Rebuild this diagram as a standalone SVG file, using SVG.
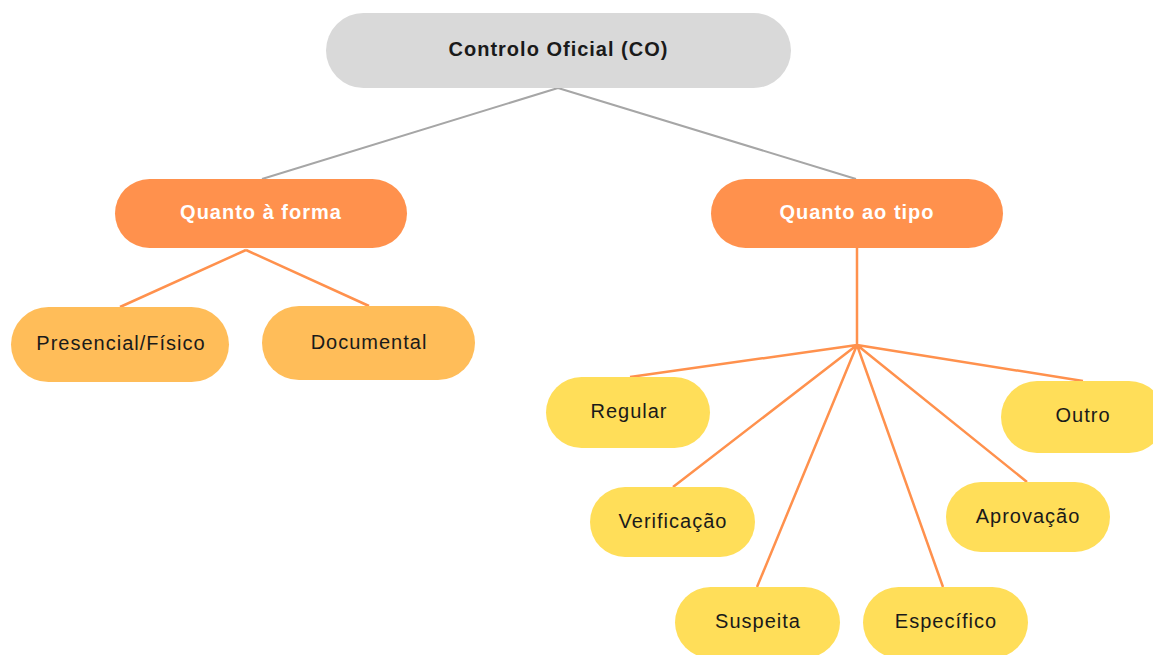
<svg xmlns="http://www.w3.org/2000/svg" width="1153" height="655" viewBox="0 0 1153 655">
<style>
text{font-family:"Liberation Sans",Arial,sans-serif;font-size:20px;letter-spacing:1px;text-anchor:middle}
.b{font-weight:bold}
.dark{fill:#1a1a1a}
.white{fill:#ffffff}
.root{fill:#D9D9D9}
.l1{fill:#FF914D}
.l2a{fill:#FFBD59}
.l2b{fill:#FFDE59}
.cg{stroke:#A6A6A6;stroke-width:2;fill:none}
.co{stroke:#FF914D;stroke-width:2.5;fill:none}
</style>
<rect width="1153" height="655" fill="#ffffff"/>
<g id="connectors">
<path class="cg" d="M558 88 L262 179 M558 88 L856 179"/>
<path class="co" d="M246 250 L120 307 M246 250 L369 306"/>
<path class="co" d="M857 248 L857 345 M857 345 L630 377 M857 345 L673 487 M857 345 L757 587 M857 345 L943 587 M857 345 L1027 482 M857 345 L1083 381"/>
</g>
<g id="n-root"><rect class="root" x="326" y="13" width="465" height="75" rx="37.5"/><text class="b dark" x="558.5" y="56">Controlo Oficial (CO)</text></g>
<g id="n-forma"><rect class="l1" x="115" y="179" width="292" height="69" rx="34.5"/><text class="b white" x="261" y="219">Quanto à forma</text></g>
<g id="n-tipo"><rect class="l1" x="711" y="179" width="292" height="69" rx="34.5"/><text class="b white" x="857" y="219">Quanto ao tipo</text></g>
<g id="n-presencial"><rect class="l2a" x="11" y="307" width="218" height="75" rx="37.5"/><text class="dark" x="121" y="350">Presencial/Físico</text></g>
<g id="n-documental"><rect class="l2a" x="262" y="306" width="213" height="74" rx="37"/><text class="dark" x="369" y="349">Documental</text></g>
<g id="n-regular"><rect class="l2b" x="546" y="377" width="164" height="71" rx="35.5"/><text class="dark" x="629" y="418">Regular</text></g>
<g id="n-verificacao"><rect class="l2b" x="590" y="487" width="165" height="70" rx="35"/><text class="dark" x="673" y="528">Verificação</text></g>
<g id="n-suspeita"><rect class="l2b" x="675" y="587" width="165" height="71" rx="35.5"/><text class="dark" x="758" y="628">Suspeita</text></g>
<g id="n-especifico"><rect class="l2b" x="863" y="587" width="165" height="71" rx="35.5"/><text class="dark" x="946" y="628">Específico</text></g>
<g id="n-aprovacao"><rect class="l2b" x="946" y="482" width="164" height="70" rx="35"/><text class="dark" x="1028" y="523">Aprovação</text></g>
<g id="n-outro"><rect class="l2b" x="1001" y="381" width="164" height="72" rx="36"/><text class="dark" x="1083" y="422">Outro</text></g>
</svg>
